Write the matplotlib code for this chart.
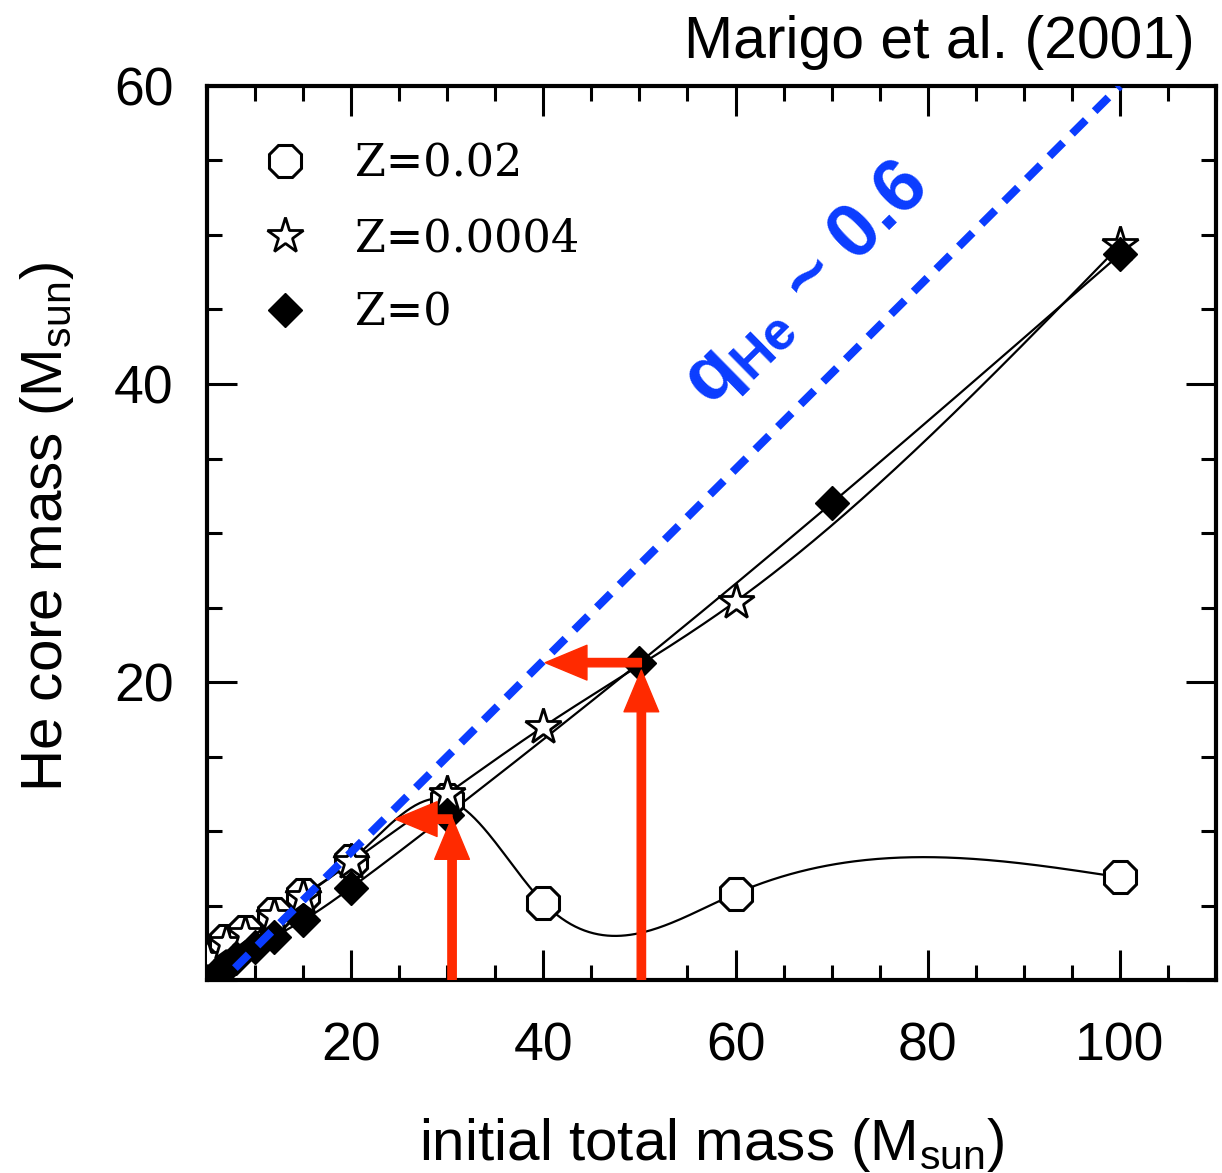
import matplotlib
matplotlib.use("Agg")
import matplotlib.pyplot as plt
from matplotlib.patches import FancyArrowPatch
from matplotlib.ticker import MultipleLocator
import numpy as np

plt.rcParams['font.family'] = ['Liberation Sans', 'DejaVu Sans']
plt.rcParams['mathtext.fontset'] = 'custom'
plt.rcParams['mathtext.rm'] = 'Liberation Sans'
plt.rcParams['mathtext.bf'] = 'Liberation Sans:bold'
plt.rcParams['lines.scale_dashes'] = False

# He core mass vs initial mass, three metallicities
m_z002 = [5, 7, 9, 12, 15, 20, 30, 40, 60, 100]
he_z002 = [1.6, 2.6, 3.2, 4.4, 5.7, 8.0, 12.1, 5.2, 5.8, 6.9]

m_z0004 = [5, 7, 9, 12, 15, 20, 30, 40, 60, 100]
he_z0004 = [1.5, 2.5, 3.1, 4.3, 5.6, 7.9, 12.5, 17.0, 25.4, 49.3]

m_z0 = [6, 7, 8, 10, 12, 15, 20, 30, 50, 70, 100]
he_z0 = [0.5, 0.9, 1.5, 2.2, 2.9, 4.0, 6.2, 11.1, 21.3, 32.0, 48.7]

# q_He ~ 0.6 guide line (end points)
guide_m = [7.9, 100]
guide_he = [0.8, 60]

# red arrows: (x0, y0, x1, y1)
arrows = [
    (30.5, 0.0, 30.5, 10.9),
    (30.5, 10.8, 24.6, 10.8),
    (50.2, 0.0, 50.2, 20.8),
    (50.2, 21.3, 40.2, 21.3),
]

y_ticks = [0, 20, 40, 60]
y_ticklabels = ['', '20', '40', '60']


def natural_spline(x, y, n=400):
    # natural cubic spline through the points, used for the smooth connecting lines
    x = np.asarray(x, float)
    y = np.asarray(y, float)
    k = len(x)
    h = np.diff(x)
    A = np.zeros((k, k))
    r = np.zeros(k)
    A[0, 0] = A[-1, -1] = 1
    for i in range(1, k - 1):
        A[i, i - 1] = h[i - 1]
        A[i, i] = 2 * (h[i - 1] + h[i])
        A[i, i + 1] = h[i]
        r[i] = 6 * ((y[i + 1] - y[i]) / h[i] - (y[i] - y[i - 1]) / h[i - 1])
    M = np.linalg.solve(A, r)
    xs = np.linspace(x[0], x[-1], n)
    j = np.clip(np.searchsorted(x, xs) - 1, 0, k - 2)
    t0 = x[j + 1] - xs
    t1 = xs - x[j]
    hj = h[j]
    ys = (M[j] * t0**3 + M[j + 1] * t1**3) / (6 * hj) \
        + (y[j] / hj - M[j] * hj / 6) * t0 + (y[j + 1] / hj - M[j + 1] * hj / 6) * t1
    return xs, ys


fig = plt.figure(figsize=(12.22, 11.73), dpi=100)
ax = fig.add_axes([0.1694, 0.1645, 0.8257, 0.7622])

for m, he in [(m_z002, he_z002), (m_z0004, he_z0004), (m_z0, he_z0)]:
    xs, ys = natural_spline(m, he)
    ax.plot(xs, ys, color='black', lw=1.6, zorder=2)

ax.plot(m_z002, he_z002, linestyle='none', marker='8', ms=25, mfc='white',
        mec='black', mew=2.2, zorder=4, label='Z=0.02')
ax.plot(m_z0004, he_z0004, linestyle='none', marker='*', ms=27, mfc='white',
        mec='black', mew=2.0, zorder=5, label='Z=0.0004')
ax.plot(m_z0, he_z0, linestyle='none', marker='D', ms=17, mfc='black',
        mec='black', mew=1.0, zorder=6, label='Z=0')

# dashed guide drawn over the markers
ax.plot(guide_m, guide_he, color='#0a3cff', lw=5.8, linestyle=(0, (14, 9)),
        dash_capstyle='butt', zorder=6.5)

for x0, y0, x1, y1 in arrows:
    arr = FancyArrowPatch((x0, y0), (x1, y1), mutation_scale=1,
                          arrowstyle='simple,head_length=30,head_width=25,tail_width=6',
                          color='#ff2a00', shrinkA=0, shrinkB=0, zorder=7)
    ax.add_patch(arr)

ax.text(67.4, 46.6, r'$\mathbf{q}_{\mathbf{He}}$ ~ 0.6', color='#0a3cff',
        fontsize=55, fontweight='bold', rotation=44.5, rotation_mode='anchor',
        ha='center', va='center', zorder=8)

ax.set_xlim(5, 110)
ax.set_ylim(0, 60)
ax.xaxis.set_major_locator(MultipleLocator(20))
ax.xaxis.set_minor_locator(MultipleLocator(5))
ax.set_yticks(y_ticks, y_ticklabels)
ax.yaxis.set_minor_locator(MultipleLocator(5))
ax.tick_params(which='both', direction='in', top=True, right=True, width=2.2)
ax.tick_params(which='major', length=21.5, labelsize=38.5)
ax.tick_params(which='minor', length=10.8)
ax.tick_params(axis='x', which='major', pad=30)
ax.tick_params(axis='y', which='major', pad=24)
for s in ax.spines.values():
    s.set_linewidth(3)

ax.set_xlabel(r'initial total mass (M$_{\rm sun}$)', fontsize=42)
ax.set_ylabel(r'He core mass (M$_{\rm sun}$)', fontsize=42)
ax.xaxis.set_label_coords(0.5, -0.152)
ax.yaxis.set_label_coords(-0.13, 0.507)

leg = ax.legend(loc='upper left', bbox_to_anchor=(0.0555, 0.937), frameon=False,
                borderpad=0, borderaxespad=0, handlelength=1.0, handletextpad=1.08,
                labelspacing=0.71, prop={'family': 'DejaVu Serif', 'size': 32})

fig.text(1195 / 1222, 1 - 58 / 1173, 'Marigo et al. (2001)', fontsize=42.4,
         ha='right', va='baseline')

fig.savefig('out.png', dpi=100)
